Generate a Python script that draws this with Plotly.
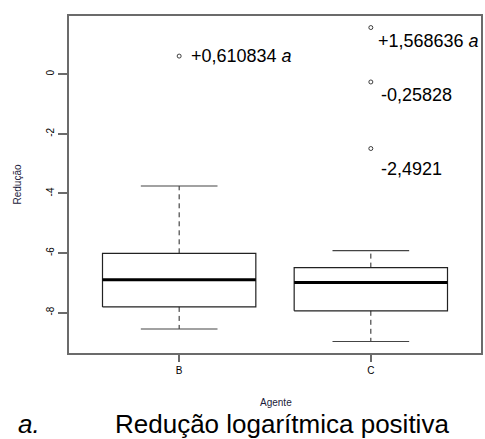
import plotly.graph_objects as go

# ---- data ----
categories = ["B", "C"]
q1 = [-7.81, -7.94]
median = [-6.90, -6.99]
q3 = [-6.01, -6.49]
lower_whisker = [-8.55, -8.97]
upper_whisker = [-3.75, -5.92]
outliers = [[0.610834], [1.568636, -0.25828, -2.4921]]
outlier_labels = [["+0,610834 <i>a</i>"], ["+1,568636 <i>a</i>", "-0,25828", "-2,4921"]]
y_ticks = [-8, -6, -4, -2, 0]

# ---- layout constants ----
W, H = 485, 439
ML, MR, MT, MB = 68, 3, 15, 85
PW, PH = W - ML - MR, H - MT - MB
FONT = "Liberation Sans, Arial, sans-serif"
BOXC = "#222222"
FRAME = "#6b6b6b"

fig = go.Figure()
half = 0.4
cap = 0.2
for i, cat in enumerate(categories):
    c = i + 1
    # box
    fig.add_trace(go.Scatter(
        x=[c - half, c + half, c + half, c - half, c - half],
        y=[q1[i], q1[i], q3[i], q3[i], q1[i]],
        mode="lines", line=dict(color=BOXC, width=1.2), hoverinfo="skip"))
    # median
    fig.add_trace(go.Scatter(
        x=[c - half, c + half], y=[median[i], median[i]],
        mode="lines", line=dict(color="#000000", width=3), hoverinfo="skip"))
    # whiskers
    fig.add_trace(go.Scatter(
        x=[c, c, None, c, c], y=[q3[i], upper_whisker[i], None, q1[i], lower_whisker[i]],
        mode="lines", line=dict(color=BOXC, width=1, dash="5px,4px"), hoverinfo="skip"))
    # caps
    fig.add_trace(go.Scatter(
        x=[c - cap, c + cap, None, c - cap, c + cap],
        y=[upper_whisker[i], upper_whisker[i], None, lower_whisker[i], lower_whisker[i]],
        mode="lines", line=dict(color="#444444", width=1.2), hoverinfo="skip"))
    # outliers
    fig.add_trace(go.Scatter(
        x=[c] * len(outliers[i]), y=outliers[i], mode="markers",
        marker=dict(symbol="circle-open", size=4, color="#111111", line=dict(width=0.8)),
        hoverinfo="skip"))

# outlier text annotations
label_shift = [[(10, 0)], [(5, -13), (8, -13), (8, -20)]]
for i in range(len(categories)):
    for j, v in enumerate(outliers[i]):
        dx, dy = label_shift[i][j]
        fig.add_annotation(x=i + 1, y=v, xref="x", yref="y", text=outlier_labels[i][j],
                           showarrow=False, xanchor="left", yanchor="middle",
                           xshift=dx, yshift=dy,
                           font=dict(family=FONT, size=18, color="#000000"))

def px_x(p):
    return (p - ML) / PW

def px_y(p):
    return (H - MB - p) / PH

# axis titles
fig.add_annotation(x=px_x(17), y=0.5, xref="paper", yref="paper", text="Redução",
                   textangle=-90, showarrow=False, xanchor="center", yanchor="middle",
                   font=dict(family=FONT, size=10, color="#1a1a3a"))
fig.add_annotation(x=px_x(276), y=px_y(402), xref="paper", yref="paper", text="Agente",
                   showarrow=False, xanchor="center", yanchor="middle",
                   font=dict(family=FONT, size=10, color="#1a1a3a"))
# caption
fig.add_annotation(x=px_x(16), y=px_y(424), xref="paper", yref="paper", text="<i>a.</i>",
                   showarrow=False, xanchor="left", yanchor="middle",
                   font=dict(family=FONT, size=26, color="#000000"))
fig.add_annotation(x=px_x(113), y=px_y(424), xref="paper", yref="paper",
                   text="Redução logarítmica positiva",
                   showarrow=False, xanchor="left", yanchor="middle",
                   font=dict(family=FONT, size=26, color="#000000"))

# frame
fig.add_shape(type="rect", xref="paper", yref="paper", x0=0, y0=0, x1=1, y1=1,
              line=dict(color=FRAME, width=2))

fig.update_layout(
    width=W, height=H, margin=dict(l=ML, r=MR, t=MT, b=MB),
    paper_bgcolor="white", plot_bgcolor="white", showlegend=False,
    font=dict(family=FONT, color="#000000"),
    xaxis=dict(range=[0.42, 2.58], tickvals=[1, 2], ticktext=categories,
               showgrid=False, zeroline=False, showline=False,
               ticks="outside", ticklen=7, tickcolor=FRAME, tickwidth=1.5,
               tickfont=dict(family=FONT, size=10, color="#000000")),
    yaxis=dict(range=[-9.39, 1.99], tickvals=y_ticks, ticktext=[str(t) for t in y_ticks],
               tickangle=-90, showgrid=False, zeroline=False, showline=False,
               ticks="outside", ticklen=9, tickcolor=FRAME, tickwidth=1.5,
               tickfont=dict(family=FONT, size=10, color="#000000")),
)

fig.write_html("out.html")
